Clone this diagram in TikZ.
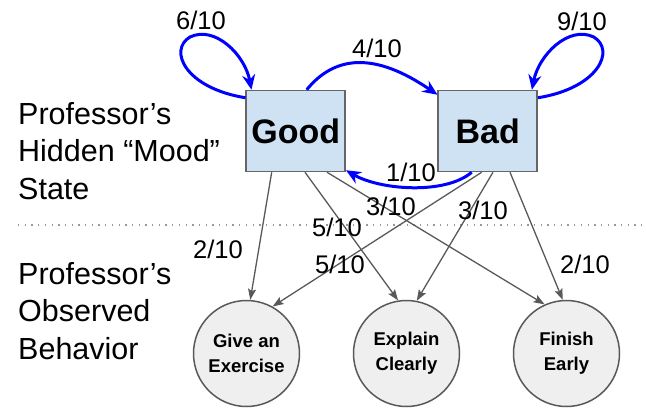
\documentclass[tikz,border=0pt]{standalone}
\usepackage{fontspec}
\setmainfont{Liberation Sans}
\usetikzlibrary{arrows.meta,calc}
\definecolor{boxfill}{HTML}{CFE2F3}
\definecolor{boxline}{HTML}{666666}
\definecolor{circfill}{HTML}{EFEFEF}
\definecolor{obsline}{HTML}{595959}
\definecolor{transblue}{HTML}{0000FF}
\tikzset{
  statebox/.style={draw=boxline, fill=boxfill, line width=1.5pt, minimum width=99pt, minimum height=81pt, inner sep=0pt, font=\fontsize{34}{40}\selectfont\bfseries},
  obsnode/.style={circle, draw=obsline, fill=circfill, line width=1.5pt, minimum size=106pt, inner sep=0pt, align=center, font=\fontsize{18.5}{25}\selectfont\bfseries},
  obsedge/.style={draw=obsline, line width=1.3pt, -{Stealth[length=11pt,width=8pt,inset=2pt]}},
  transedge/.style={draw=transblue, line width=3pt, -{Stealth[length=15pt,width=13pt,inset=5pt]}},
  problabel/.style={font=\fontsize{25.5}{28}\selectfont, inner sep=0pt},
  sidelabel/.style={font=\fontsize{30.5}{37.5}\selectfont, align=left, inner sep=0pt, anchor=base west}
}
\begin{document}
\begin{tikzpicture}[x=1pt,y=-1pt]
\useasboundingbox (0,0) rectangle (646,408);
% dotted separator
\coordinate (sepL) at (18,225);
\coordinate (sepR) at (646,225);
\draw[draw=gray!80, line width=1.3pt, dash pattern=on 1.3pt off 5.4pt] (sepL) -- (sepR);
% side labels (base anchor = baseline of last line)
\node[sidelabel] (hidden) at (18,199) {Professor’s\\Hidden “Mood”\\State};
\node[sidelabel] (observed) at (18,359) {Professor’s\\Observed\\Behavior};
% states
\node[statebox] (good) at (295.7,131) {Good};
\node[statebox] (bad) at (487.7,131) {Bad};
% observations
\node[obsnode] (ex) at (246.5,353.5) {Give an\\Exercise};
\node[obsnode] (exp) at (406.5,353.5) {Explain\\Clearly};
\node[obsnode] (fin) at (566.5,353.5) {Finish\\Early};
% emission edges
\draw[obsedge] ([xshift=-24pt]good.south) -- (ex.86);
\draw[obsedge] ([xshift=9.3pt]good.south) -- (exp.99);
\draw[obsedge] ([xshift=31.3pt]good.south) -- (fin.114);
\draw[obsedge] ([xshift=-6pt]bad.south) -- (ex.61);
\draw[obsedge] ([xshift=5.3pt]bad.south) -- (exp.79);
\draw[obsedge] ([xshift=22.3pt]bad.south) -- (fin.94);
% transitions
\draw[transedge] ([yshift=-8pt]good.north west) .. controls (185,88) and (168,50) .. (190,37) .. controls (215,25) and (245,55) .. ([xshift=6pt]good.north west);
\draw[transedge] ([yshift=-8pt]bad.north east) .. controls (598.7,88) and (615.7,50) .. (593.7,37) .. controls (568.7,25) and (538.7,55) .. ([xshift=-6pt]bad.north east);
\draw[transedge] ([xshift=11pt]good.north) .. controls (335,55) and (375,52) .. ([yshift=-5pt]bad.north west);
\draw[transedge] ([xshift=-16pt]bad.south) .. controls (445,195) and (380,190) .. ([yshift=2pt]good.south east);
% probability labels
\node[problabel] (p66) at (201,20.5) {6/10};
\node[problabel] (p99) at (582,21) {9/10};
\node[problabel] (pgb) at (377,48) {4/10};
\node[problabel] (pbg) at (411,172) {1/10};
\node[problabel] (pgf) at (391,206) {3/10};
\node[problabel] (pbe) at (483,210) {3/10};
\node[problabel] (pgx) at (337,227) {5/10};
\node[problabel] (pbx) at (340,264) {5/10};
\node[problabel] (pge) at (218,249) {2/10};
\node[problabel] (pbf) at (585,264) {2/10};
\end{tikzpicture}
\end{document}
